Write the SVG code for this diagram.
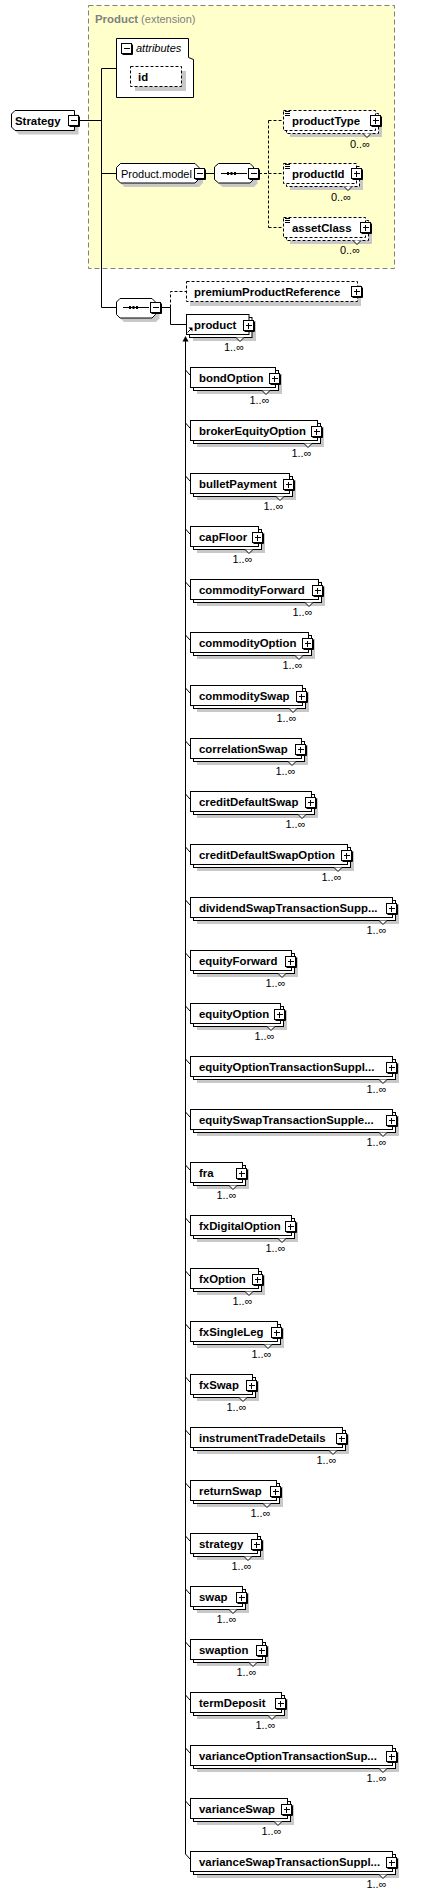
<svg xmlns="http://www.w3.org/2000/svg" width="423" height="1897" viewBox="0 0 423 1897">
<style>
.bx{fill:#fff;stroke:#000;stroke-width:1}
.db{fill:#fff;stroke:#000;stroke-width:1;stroke-dasharray:3,2}
.sh{fill:#c8c8c8}
.ln{fill:none;stroke:#000;stroke-width:1}
.dl{fill:none;stroke:#000;stroke-width:1;stroke-dasharray:3,2}
.v{fill:#fff;stroke:#000;stroke-width:1}
.b{font-family:"Liberation Sans",Arial,sans-serif;font-weight:bold;font-size:11.4px;fill:#000}
.m{font-family:"Liberation Sans",Arial,sans-serif;font-size:11px;fill:#000;text-anchor:end}
.r{font-family:"Liberation Sans",Arial,sans-serif;font-size:11px;fill:#000}
</style>
<defs>
<g id="plus"><rect x="-4.5" y="-4.5" width="10" height="10" fill="#fff" stroke="#000"/><path d="M-3.5,6.5 H6.5 V-3.5" fill="none" stroke="#000"/><path d="M-2,0.5 H4 M0.5,-2 V4" fill="none" stroke="#000"/></g>
<g id="minus"><rect x="-4.5" y="-4.5" width="10" height="10" fill="#fff" stroke="#000"/><path d="M-3.5,6.5 H6.5 V-3.5" fill="none" stroke="#000"/><path d="M-2,0.5 H4" fill="none" stroke="#000"/></g>
</defs>

<g id="product-extension">
<rect x="88.5" y="5.5" width="306" height="263" fill="#ffffcc" stroke="#808080" stroke-dasharray="5,3"/>
<text x="95" y="22.5" font-family="Liberation Sans, Arial, sans-serif" font-size="11px" fill="#808080"><tspan font-weight="bold" font-size="11.4px">Product</tspan> (extension)</text>
</g>

<g id="connectors">
<path class="ln" d="M79,120.5 H101.5 M101.5,68.5 V307.5 M101.5,68.5 H116.5 M101.5,173.5 H116.5 M101.5,307.5 H116.5 M204,173.5 H214.5 M161,307.5 H170.5 M170.5,307.5 V324.5 H186.5"/>
<path class="dl" d="M259,173.5 H268.5 M268.5,120.5 V227.5 M268.5,120.5 H283.5 M268.5,173.5 H283.5 M268.5,227.5 H283.5 M170.5,307.5 V291.5 H186.5"/>
<polygon points="185.5,336 182.5,341.5 188.5,341.5" fill="#000"/>
<path class="ln" d="M185.5,341 V1854"/>
<path class="ln" d="M185.5,370 L190,375 M185.5,423 L190,428 M185.5,476 L190,481 M185.5,529 L190,534 M185.5,582 L190,587 M185.5,635 L190,640 M185.5,688 L190,693 M185.5,741 L190,746 M185.5,794 L190,799 M185.5,847 L190,852 M185.5,900 L190,905 M185.5,953 L190,958 M185.5,1006 L190,1011 M185.5,1059 L190,1064 M185.5,1112 L190,1117 M185.5,1165 L190,1170 M185.5,1218 L190,1223 M185.5,1271 L190,1276 M185.5,1324 L190,1329 M185.5,1377 L190,1382 M185.5,1430 L190,1435 M185.5,1483 L190,1488 M185.5,1536 L190,1541 M185.5,1589 L190,1594 M185.5,1642 L190,1647 M185.5,1695 L190,1700 M185.5,1748 L190,1753 M185.5,1801 L190,1806 M185.5,1854 L190,1859"/>
</g>

<g id="n-Strategy">
<path class="sh" d="M19,114.5 H78.5 V134.5 H19 L15.5,131 V118 Z"/>
<path class="bx" d="M15,110.5 H74.5 V130.5 H15 L11.5,127 V114 Z"/>
<text class="b" x="15" y="124.5">Strategy</text>
<use href="#minus" x="73" y="120"/>
</g>

<g id="n-attributes">
<path class="bx" d="M116.5,38.5 H188.5 V57.5 L193.5,59.5 V97.5 H116.5 Z"/>
<use href="#minus" x="126" y="48"/>
<text x="136" y="52" font-family="Liberation Sans, Arial, sans-serif" font-size="11px" font-style="italic">attributes</text>
</g>
<g id="n-id">
<rect class="sh" x="135" y="71" width="51" height="20"/>
<rect class="db" x="130.5" y="66.5" width="51" height="20"/>
<text class="b" x="138" y="81">id</text>
</g>

<g id="n-Product.model">
<polygon class="sh" points="124.5,167.5 199,167.5 203,171.5 203,183 199,187 124.5,187 120.5,183 120.5,171.5"/>
<polygon class="bx" points="120.5,163.5 195,163.5 199,167.5 199,179 195,183 120.5,183 116.5,179 116.5,167.5"/>
<text class="r" x="121" y="177.5">Product.model</text>
<use href="#minus" x="199" y="173"/>
</g>

<g id="n-sequence1">
<polygon class="sh" points="222.5,167.5 254,167.5 257.5,171 257.5,183.5 254,187 222.5,187 218.5,183.5 218.5,171"/>
<polygon class="bx" points="218.5,163.5 250,163.5 253.5,167 253.5,179.5 250,183 218.5,183 214.5,179.5 214.5,167"/>
<path class="ln" d="M221,173.5 H247"/>
<rect x="227" y="172" width="2" height="3"/><rect x="230.5" y="172" width="2" height="3"/><rect x="234" y="172" width="2" height="3"/>
<use href="#minus" x="253" y="173"/>
</g>

<g id="n-productType">
<rect class="sh" x="290" y="117" width="92" height="20"/>
<rect class="db" x="286.5" y="113.5" width="92" height="20"/>
<rect class="db" x="283.5" y="110.5" width="92" height="20"/>
<polyline class="v" points="363,133.5 367,137.5 371,133.5"/>
<path class="ln" d="M285,111.5 H290 M285,113.5 H290 M285,115.5 H290"/>
<text class="b" x="292" y="124.5">productType</text>
<use href="#plus" x="375" y="120"/>
<text class="m" x="370" y="147.5">0..∞</text>
</g>
<g id="n-productId">
<rect class="sh" x="290" y="170" width="73" height="20"/>
<rect class="db" x="286.5" y="166.5" width="73" height="20"/>
<rect class="db" x="283.5" y="163.5" width="73" height="20"/>
<polyline class="v" points="344,186.5 348,190.5 352,186.5"/>
<path class="ln" d="M285,164.5 H290 M285,166.5 H290 M285,168.5 H290"/>
<text class="b" x="292" y="177.5">productId</text>
<use href="#plus" x="356" y="173"/>
<text class="m" x="351" y="200.5">0..∞</text>
</g>
<g id="n-assetClass">
<rect class="sh" x="290" y="224" width="82" height="20"/>
<rect class="db" x="286.5" y="220.5" width="82" height="20"/>
<rect class="db" x="283.5" y="217.5" width="82" height="20"/>
<polyline class="v" points="353,240.5 357,244.5 361,240.5"/>
<path class="ln" d="M285,218.5 H290 M285,220.5 H290 M285,222.5 H290"/>
<text class="b" x="292" y="231.5">assetClass</text>
<use href="#plus" x="365" y="227"/>
<text class="m" x="360" y="254">0..∞</text>
</g>

<g id="n-sequence2">
<polygon class="sh" points="124,302.5 156,302.5 159.5,306 159.5,318.5 156,322 124,322 120.5,318.5 120.5,306"/>
<polygon class="bx" points="120,298.5 152,298.5 155.5,302 155.5,314.5 152,318 120,318 116.5,314.5 116.5,302"/>
<path class="ln" d="M123,307.5 H149"/>
<rect x="129" y="306" width="2" height="3"/><rect x="132.5" y="306" width="2" height="3"/><rect x="136" y="306" width="2" height="3"/>
<use href="#minus" x="155" y="307"/>
</g>

<g id="n-premiumProductReference">
<rect class="sh" x="190" y="285" width="171" height="21"/>
<rect class="db" x="186.5" y="281.5" width="171" height="20"/>
<text class="b" x="194" y="295.5">premiumProductReference</text>
<use href="#plus" x="356" y="291"/>
</g>

<g id="n-product">
<rect class="sh" x="193" y="321" width="63" height="20"/>
<rect class="bx" x="189.5" y="317.5" width="62.5" height="20"/>
<rect class="bx" x="186.5" y="314.5" width="62.5" height="20"/>
<polyline class="v" points="236,337.5 240,341.5 244,337.5"/>
<text class="b" x="194" y="328.5">product</text>
<path class="ln" d="M187.5,332.5 L191,329"/>
<polygon points="188.5,327.5 192.5,327.5 192.5,331.5" fill="#000"/>
<use href="#plus" x="248" y="325"/>
<text class="m" x="244" y="351">1..∞</text>
</g>

<g id="n-bondOption"><rect class="sh" x="197" y="374" width="85" height="20"/><rect class="bx" x="193.5" y="370.5" width="85" height="20"/><rect class="bx" x="190.5" y="367.5" width="85" height="20"/><polyline class="v" points="262,390.5 266,394.5 270,390.5"/><text class="b" x="199" y="381.5">bondOption</text><use href="#plus" x="274" y="378"/><text class="m" x="269.5" y="404">1..∞</text></g>
<g id="n-brokerEquityOption"><rect class="sh" x="197" y="427" width="127" height="20"/><rect class="bx" x="193.5" y="423.5" width="127" height="20"/><rect class="bx" x="190.5" y="420.5" width="127" height="20"/><polyline class="v" points="304,443.5 308,447.5 312,443.5"/><text class="b" x="199" y="434.5">brokerEquityOption</text><use href="#plus" x="316" y="431"/><text class="m" x="311.5" y="457">1..∞</text></g>
<g id="n-bulletPayment"><rect class="sh" x="197" y="480" width="99" height="20"/><rect class="bx" x="193.5" y="476.5" width="99" height="20"/><rect class="bx" x="190.5" y="473.5" width="99" height="20"/><polyline class="v" points="276,496.5 280,500.5 284,496.5"/><text class="b" x="199" y="487.5">bulletPayment</text><use href="#plus" x="288" y="484"/><text class="m" x="283.5" y="510">1..∞</text></g>
<g id="n-capFloor"><rect class="sh" x="197" y="533" width="68" height="20"/><rect class="bx" x="193.5" y="529.5" width="68" height="20"/><rect class="bx" x="190.5" y="526.5" width="68" height="20"/><polyline class="v" points="245,549.5 249,553.5 253,549.5"/><text class="b" x="199" y="540.5">capFloor</text><use href="#plus" x="257" y="537"/><text class="m" x="252.5" y="563">1..∞</text></g>
<g id="n-commodityForward"><rect class="sh" x="197" y="586" width="128" height="20"/><rect class="bx" x="193.5" y="582.5" width="128" height="20"/><rect class="bx" x="190.5" y="579.5" width="128" height="20"/><polyline class="v" points="305,602.5 309,606.5 313,602.5"/><text class="b" x="199" y="593.5">commodityForward</text><use href="#plus" x="317" y="590"/><text class="m" x="312.5" y="616">1..∞</text></g>
<g id="n-commodityOption"><rect class="sh" x="197" y="639" width="118" height="20"/><rect class="bx" x="193.5" y="635.5" width="118" height="20"/><rect class="bx" x="190.5" y="632.5" width="118" height="20"/><polyline class="v" points="295,655.5 299,659.5 303,655.5"/><text class="b" x="199" y="646.5">commodityOption</text><use href="#plus" x="307" y="643"/><text class="m" x="302.5" y="669">1..∞</text></g>
<g id="n-commoditySwap"><rect class="sh" x="197" y="692" width="112" height="20"/><rect class="bx" x="193.5" y="688.5" width="112" height="20"/><rect class="bx" x="190.5" y="685.5" width="112" height="20"/><polyline class="v" points="289,708.5 293,712.5 297,708.5"/><text class="b" x="199" y="699.5">commoditySwap</text><use href="#plus" x="301" y="696"/><text class="m" x="296.5" y="722">1..∞</text></g>
<g id="n-correlationSwap"><rect class="sh" x="197" y="745" width="111" height="20"/><rect class="bx" x="193.5" y="741.5" width="111" height="20"/><rect class="bx" x="190.5" y="738.5" width="111" height="20"/><polyline class="v" points="288,761.5 292,765.5 296,761.5"/><text class="b" x="199" y="752.5">correlationSwap</text><use href="#plus" x="300" y="749"/><text class="m" x="295.5" y="775">1..∞</text></g>
<g id="n-creditDefaultSwap"><rect class="sh" x="197" y="798" width="121" height="20"/><rect class="bx" x="193.5" y="794.5" width="121" height="20"/><rect class="bx" x="190.5" y="791.5" width="121" height="20"/><polyline class="v" points="298,814.5 302,818.5 306,814.5"/><text class="b" x="199" y="805.5">creditDefaultSwap</text><use href="#plus" x="310" y="802"/><text class="m" x="305.5" y="828">1..∞</text></g>
<g id="n-creditDefaultSwapOption"><rect class="sh" x="197" y="851" width="157" height="20"/><rect class="bx" x="193.5" y="847.5" width="157" height="20"/><rect class="bx" x="190.5" y="844.5" width="157" height="20"/><polyline class="v" points="334,867.5 338,871.5 342,867.5"/><text class="b" x="199" y="858.5">creditDefaultSwapOption</text><use href="#plus" x="346" y="855"/><text class="m" x="341.5" y="881">1..∞</text></g>
<g id="n-dividendSwapTransactionSupplement"><rect class="sh" x="197" y="904" width="202" height="20"/><rect class="bx" x="193.5" y="900.5" width="202" height="20"/><rect class="bx" x="190.5" y="897.5" width="202" height="20"/><polyline class="v" points="379,920.5 383,924.5 387,920.5"/><text class="b" x="199" y="911.5">dividendSwapTransactionSupp...</text><use href="#plus" x="391" y="908"/><text class="m" x="386.5" y="934">1..∞</text></g>
<g id="n-equityForward"><rect class="sh" x="197" y="957" width="101" height="20"/><rect class="bx" x="193.5" y="953.5" width="101" height="20"/><rect class="bx" x="190.5" y="950.5" width="101" height="20"/><polyline class="v" points="278,973.5 282,977.5 286,973.5"/><text class="b" x="199" y="964.5">equityForward</text><use href="#plus" x="290" y="961"/><text class="m" x="285.5" y="987">1..∞</text></g>
<g id="n-equityOption"><rect class="sh" x="197" y="1010" width="90" height="20"/><rect class="bx" x="193.5" y="1006.5" width="90" height="20"/><rect class="bx" x="190.5" y="1003.5" width="90" height="20"/><polyline class="v" points="267,1026.5 271,1030.5 275,1026.5"/><text class="b" x="199" y="1017.5">equityOption</text><use href="#plus" x="279" y="1014"/><text class="m" x="274.5" y="1040">1..∞</text></g>
<g id="n-equityOptionTransactionSupplement"><rect class="sh" x="197" y="1063" width="202" height="20"/><rect class="bx" x="193.5" y="1059.5" width="202" height="20"/><rect class="bx" x="190.5" y="1056.5" width="202" height="20"/><polyline class="v" points="379,1079.5 383,1083.5 387,1079.5"/><text class="b" x="199" y="1070.5">equityOptionTransactionSuppl...</text><use href="#plus" x="391" y="1067"/><text class="m" x="386.5" y="1093">1..∞</text></g>
<g id="n-equitySwapTransactionSupplement"><rect class="sh" x="197" y="1116" width="202" height="20"/><rect class="bx" x="193.5" y="1112.5" width="202" height="20"/><rect class="bx" x="190.5" y="1109.5" width="202" height="20"/><polyline class="v" points="379,1132.5 383,1136.5 387,1132.5"/><text class="b" x="199" y="1123.5">equitySwapTransactionSupple...</text><use href="#plus" x="391" y="1120"/><text class="m" x="386.5" y="1146">1..∞</text></g>
<g id="n-fra"><rect class="sh" x="197" y="1169" width="52" height="20"/><rect class="bx" x="193.5" y="1165.5" width="52" height="20"/><rect class="bx" x="190.5" y="1162.5" width="52" height="20"/><polyline class="v" points="229,1185.5 233,1189.5 237,1185.5"/><text class="b" x="199" y="1176.5">fra</text><use href="#plus" x="241" y="1173"/><text class="m" x="236.5" y="1199">1..∞</text></g>
<g id="n-fxDigitalOption"><rect class="sh" x="197" y="1222" width="101" height="20"/><rect class="bx" x="193.5" y="1218.5" width="101" height="20"/><rect class="bx" x="190.5" y="1215.5" width="101" height="20"/><polyline class="v" points="278,1238.5 282,1242.5 286,1238.5"/><text class="b" x="199" y="1229.5">fxDigitalOption</text><use href="#plus" x="290" y="1226"/><text class="m" x="285.5" y="1252">1..∞</text></g>
<g id="n-fxOption"><rect class="sh" x="197" y="1275" width="68" height="20"/><rect class="bx" x="193.5" y="1271.5" width="68" height="20"/><rect class="bx" x="190.5" y="1268.5" width="68" height="20"/><polyline class="v" points="245,1291.5 249,1295.5 253,1291.5"/><text class="b" x="199" y="1282.5">fxOption</text><use href="#plus" x="257" y="1279"/><text class="m" x="252.5" y="1305">1..∞</text></g>
<g id="n-fxSingleLeg"><rect class="sh" x="197" y="1328" width="87" height="20"/><rect class="bx" x="193.5" y="1324.5" width="87" height="20"/><rect class="bx" x="190.5" y="1321.5" width="87" height="20"/><polyline class="v" points="264,1344.5 268,1348.5 272,1344.5"/><text class="b" x="199" y="1335.5">fxSingleLeg</text><use href="#plus" x="276" y="1332"/><text class="m" x="271.5" y="1358">1..∞</text></g>
<g id="n-fxSwap"><rect class="sh" x="197" y="1381" width="62" height="20"/><rect class="bx" x="193.5" y="1377.5" width="62" height="20"/><rect class="bx" x="190.5" y="1374.5" width="62" height="20"/><polyline class="v" points="239,1397.5 243,1401.5 247,1397.5"/><text class="b" x="199" y="1388.5">fxSwap</text><use href="#plus" x="251" y="1385"/><text class="m" x="246.5" y="1411">1..∞</text></g>
<g id="n-instrumentTradeDetails"><rect class="sh" x="197" y="1434" width="152" height="20"/><rect class="bx" x="193.5" y="1430.5" width="152" height="20"/><rect class="bx" x="190.5" y="1427.5" width="152" height="20"/><polyline class="v" points="329,1450.5 333,1454.5 337,1450.5"/><text class="b" x="199" y="1441.5">instrumentTradeDetails</text><use href="#plus" x="341" y="1438"/><text class="m" x="336.5" y="1464">1..∞</text></g>
<g id="n-returnSwap"><rect class="sh" x="197" y="1487" width="86" height="20"/><rect class="bx" x="193.5" y="1483.5" width="86" height="20"/><rect class="bx" x="190.5" y="1480.5" width="86" height="20"/><polyline class="v" points="263,1503.5 267,1507.5 271,1503.5"/><text class="b" x="199" y="1494.5">returnSwap</text><use href="#plus" x="275" y="1491"/><text class="m" x="270.5" y="1517">1..∞</text></g>
<g id="n-strategy"><rect class="sh" x="197" y="1540" width="67" height="20"/><rect class="bx" x="193.5" y="1536.5" width="67" height="20"/><rect class="bx" x="190.5" y="1533.5" width="67" height="20"/><polyline class="v" points="244,1556.5 248,1560.5 252,1556.5"/><text class="b" x="199" y="1547.5">strategy</text><use href="#plus" x="256" y="1544"/><text class="m" x="251.5" y="1570">1..∞</text></g>
<g id="n-swap"><rect class="sh" x="197" y="1593" width="52" height="20"/><rect class="bx" x="193.5" y="1589.5" width="52" height="20"/><rect class="bx" x="190.5" y="1586.5" width="52" height="20"/><polyline class="v" points="229,1609.5 233,1613.5 237,1609.5"/><text class="b" x="199" y="1600.5">swap</text><use href="#plus" x="241" y="1597"/><text class="m" x="236.5" y="1623">1..∞</text></g>
<g id="n-swaption"><rect class="sh" x="197" y="1646" width="72" height="20"/><rect class="bx" x="193.5" y="1642.5" width="72" height="20"/><rect class="bx" x="190.5" y="1639.5" width="72" height="20"/><polyline class="v" points="249,1662.5 253,1666.5 257,1662.5"/><text class="b" x="199" y="1653.5">swaption</text><use href="#plus" x="261" y="1650"/><text class="m" x="256.5" y="1676">1..∞</text></g>
<g id="n-termDeposit"><rect class="sh" x="197" y="1699" width="91" height="20"/><rect class="bx" x="193.5" y="1695.5" width="91" height="20"/><rect class="bx" x="190.5" y="1692.5" width="91" height="20"/><polyline class="v" points="268,1715.5 272,1719.5 276,1715.5"/><text class="b" x="199" y="1706.5">termDeposit</text><use href="#plus" x="280" y="1703"/><text class="m" x="275.5" y="1729">1..∞</text></g>
<g id="n-varianceOptionTransactionSupplement"><rect class="sh" x="197" y="1752" width="202" height="20"/><rect class="bx" x="193.5" y="1748.5" width="202" height="20"/><rect class="bx" x="190.5" y="1745.5" width="202" height="20"/><polyline class="v" points="379,1768.5 383,1772.5 387,1768.5"/><text class="b" x="199" y="1759.5">varianceOptionTransactionSup...</text><use href="#plus" x="391" y="1756"/><text class="m" x="386.5" y="1782">1..∞</text></g>
<g id="n-varianceSwap"><rect class="sh" x="197" y="1805" width="97" height="20"/><rect class="bx" x="193.5" y="1801.5" width="97" height="20"/><rect class="bx" x="190.5" y="1798.5" width="97" height="20"/><polyline class="v" points="274,1821.5 278,1825.5 282,1821.5"/><text class="b" x="199" y="1812.5">varianceSwap</text><use href="#plus" x="286" y="1809"/><text class="m" x="281.5" y="1835">1..∞</text></g>
<g id="n-varianceSwapTransactionSupplement"><rect class="sh" x="197" y="1858" width="202" height="20"/><rect class="bx" x="193.5" y="1854.5" width="202" height="20"/><rect class="bx" x="190.5" y="1851.5" width="202" height="20"/><polyline class="v" points="379,1874.5 383,1878.5 387,1874.5"/><text class="b" x="199" y="1865.5">varianceSwapTransactionSuppl...</text><use href="#plus" x="391" y="1862"/><text class="m" x="386.5" y="1888">1..∞</text></g>
</svg>
